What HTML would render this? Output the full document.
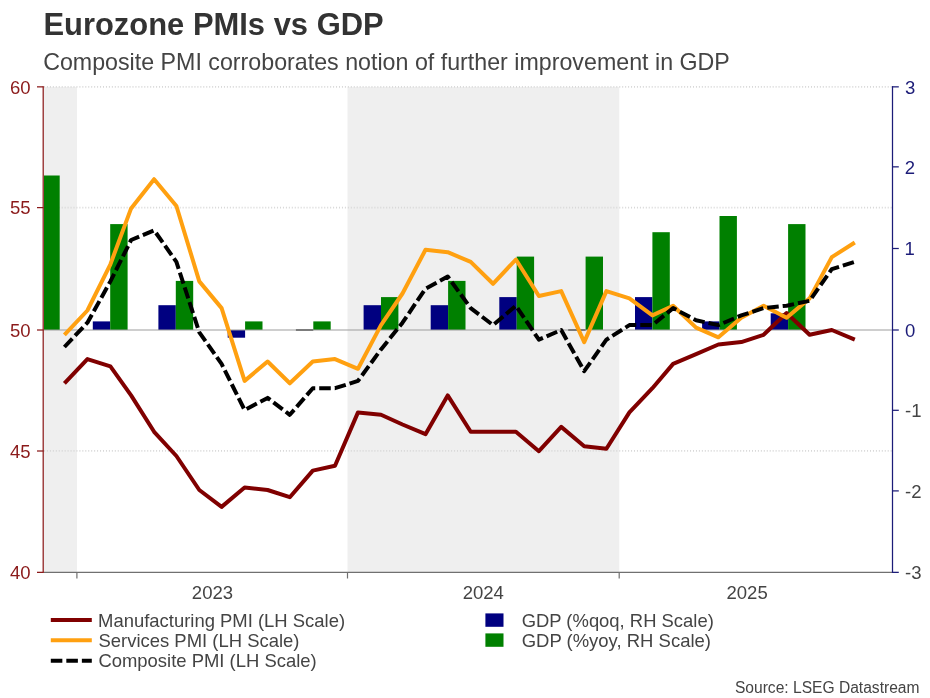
<!DOCTYPE html>
<html><head><meta charset="utf-8"><title>Eurozone PMIs vs GDP</title>
<style>
html,body{margin:0;padding:0;background:#fff}
body{width:930px;height:698px;position:relative;overflow:hidden;font-family:"Liberation Sans",sans-serif}
svg text{font-family:"Liberation Sans",sans-serif}
</style></head><body>
<svg width="930" height="698" viewBox="0 0 930 698" style="position:absolute;left:0;top:0;will-change:transform">
<defs><clipPath id="cp"><rect x="44" y="80" width="848" height="493"/></clipPath></defs>
<rect x="44" y="87" width="33" height="485" fill="#efefef"/>
<rect x="347.5" y="87" width="271.75" height="485" fill="#efefef"/>
<line x1="44" x2="892" y1="86.85" y2="86.85" stroke="#d8d8d8" stroke-width="1.7" stroke-dasharray="1 1.95"/>
<line x1="44" x2="892" y1="207.70" y2="207.70" stroke="#d8d8d8" stroke-width="1.7" stroke-dasharray="1 1.95"/>
<line x1="44" x2="892" y1="450.80" y2="450.80" stroke="#d8d8d8" stroke-width="1.7" stroke-dasharray="1 1.95"/>
<g clip-path="url(#cp)"><rect x="24.9" y="330.0" width="17.4" height="7.7" fill="#000080"/><rect x="42.3" y="175.5" width="17.4" height="154.5" fill="#008000"/><rect x="92.8" y="321.4" width="17.4" height="8.6" fill="#000080"/><rect x="110.2" y="224.1" width="17.4" height="105.9" fill="#008000"/><rect x="158.4" y="305.2" width="17.4" height="24.8" fill="#000080"/><rect x="175.8" y="280.9" width="17.4" height="49.1" fill="#008000"/><rect x="227.7" y="330.0" width="17.4" height="7.7" fill="#000080"/><rect x="245.1" y="321.4" width="17.4" height="8.6" fill="#008000"/><rect x="313.3" y="321.4" width="17.4" height="8.6" fill="#008000"/><rect x="363.6" y="305.2" width="17.4" height="24.8" fill="#000080"/><rect x="381.0" y="297.1" width="17.4" height="32.9" fill="#008000"/><rect x="430.7" y="305.2" width="17.4" height="24.8" fill="#000080"/><rect x="448.1" y="280.9" width="17.4" height="49.1" fill="#008000"/><rect x="499.3" y="297.1" width="17.4" height="32.9" fill="#000080"/><rect x="516.7" y="256.6" width="17.4" height="73.4" fill="#008000"/><rect x="585.6" y="256.6" width="17.4" height="73.4" fill="#008000"/><rect x="635.0" y="297.1" width="17.4" height="32.9" fill="#000080"/><rect x="652.4" y="232.2" width="17.4" height="97.8" fill="#008000"/><rect x="702.1" y="321.4" width="17.4" height="8.6" fill="#000080"/><rect x="719.5" y="216.0" width="17.4" height="114.0" fill="#008000"/><rect x="770.7" y="313.3" width="17.4" height="16.7" fill="#000080"/><rect x="788.1" y="224.1" width="17.4" height="105.9" fill="#008000"/></g>
<line x1="44" x2="892" y1="330.00" y2="330.00" stroke="#9e9e9e" stroke-width="1.2"/>
<line x1="295.9" x2="313.3" y1="330.00" y2="330.00" stroke="#505050" stroke-width="1.3"/><line x1="568.2" x2="585.6" y1="330.00" y2="330.00" stroke="#505050" stroke-width="1.3"/>
<g clip-path="url(#cp)" fill="none" stroke-linejoin="round">
<polyline points="64.4,383.3 87.4,359.1 110.4,366.4 131.1,395.4 154.1,431.8 176.4,456.0 199.3,490.0 221.6,506.9 244.6,487.5 267.6,490.0 289.8,497.2 312.8,470.6 335.0,465.7 358.0,412.4 381.0,414.8 402.5,424.5 425.5,434.2 447.7,395.4 470.7,431.8 493.0,431.8 515.9,431.8 538.9,451.2 561.2,426.9 584.2,446.3 606.4,448.8 629.4,412.4 652.4,388.2 673.1,363.9 696.1,354.2 718.4,344.5 741.3,342.1 763.6,334.8 786.6,313.0 809.6,334.8 831.8,330.0 854.8,339.7" stroke="#800000" stroke-width="4"/>
<polyline points="64.4,334.8 87.4,310.5 110.4,264.3 131.1,208.4 154.1,179.2 176.4,206.0 199.3,281.4 221.6,308.1 244.6,380.9 267.6,361.5 289.8,383.3 312.8,361.5 335.0,359.1 358.0,368.8 381.0,325.1 402.5,293.5 425.5,249.8 447.7,252.2 470.7,261.9 493.0,283.8 515.9,259.5 538.9,296.0 561.2,291.1 584.2,342.1 606.4,291.1 629.4,298.4 652.4,315.4 673.1,305.7 696.1,327.6 718.4,337.3 741.3,317.8 763.6,305.7 786.6,317.8 809.6,298.4 831.8,257.1 854.8,242.5" stroke="#ffa010" stroke-width="4"/>
<polyline points="64.4,347.0 87.4,322.7 110.4,281.4 131.1,240.0 154.1,230.3 176.4,261.9 199.3,332.4 221.6,363.9 244.6,410.0 267.6,397.9 289.8,414.8 312.8,388.2 335.0,388.2 358.0,380.9 381.0,349.4 402.5,322.7 425.5,288.7 447.7,276.5 470.7,308.1 493.0,325.1 515.9,305.7 538.9,339.7 561.2,330.0 584.2,371.2 606.4,339.7 629.4,325.1 652.4,325.1 673.1,308.1 696.1,320.3 718.4,325.1 741.3,315.4 763.6,308.1 786.6,305.7 809.6,300.8 831.8,269.2 854.8,261.9" stroke="#000" stroke-width="4" stroke-dasharray="11.55 3.98"/>
</g>
<line x1="44" x2="893" y1="572.35" y2="572.35" stroke="#707070" stroke-width="1.2"/>
<line x1="76.9" x2="76.9" y1="572" y2="578.5" stroke="#707070" stroke-width="1.2"/>
<line x1="347.5" x2="347.5" y1="572" y2="578.5" stroke="#707070" stroke-width="1.2"/>
<line x1="619.2" x2="619.2" y1="572" y2="578.5" stroke="#707070" stroke-width="1.2"/>
<line x1="43.2" x2="43.2" y1="86.25" y2="572.95" stroke="#8b1a1a" stroke-width="1.25"/>
<line x1="37" x2="43.5" y1="86.85" y2="86.85" stroke="#8b1a1a" stroke-width="1.25"/>
<text transform="translate(9.96,93.70) scale(1.0300,1)" font-size="18" fill="#8b1a1a">60</text>
<line x1="37" x2="43.5" y1="207.60" y2="207.60" stroke="#8b1a1a" stroke-width="1.25"/>
<text transform="translate(9.96,214.45) scale(1.0300,1)" font-size="18" fill="#8b1a1a">55</text>
<line x1="37" x2="43.5" y1="330.00" y2="330.00" stroke="#8b1a1a" stroke-width="1.25"/>
<text transform="translate(9.96,336.85) scale(1.0300,1)" font-size="18" fill="#8b1a1a">50</text>
<line x1="37" x2="43.5" y1="451.00" y2="451.00" stroke="#8b1a1a" stroke-width="1.25"/>
<text transform="translate(9.96,457.85) scale(1.0300,1)" font-size="18" fill="#8b1a1a">45</text>
<line x1="37" x2="43.5" y1="572.35" y2="572.35" stroke="#8b1a1a" stroke-width="1.25"/>
<text transform="translate(9.96,579.20) scale(1.0300,1)" font-size="18" fill="#8b1a1a">40</text>
<line x1="892.5" x2="892.5" y1="86.25" y2="572.95" stroke="#1c1c78" stroke-width="1.25"/>
<line x1="892" x2="898.8" y1="86.85" y2="86.85" stroke="#1c1c78" stroke-width="1.25"/>
<text transform="translate(905.06,93.70) scale(1.0300,1)" font-size="18" fill="#1c1c78">3</text>
<line x1="892" x2="898.8" y1="166.85" y2="166.85" stroke="#1c1c78" stroke-width="1.25"/>
<text transform="translate(904.87,173.70) scale(1.0300,1)" font-size="18" fill="#1c1c78">2</text>
<line x1="892" x2="898.8" y1="248.50" y2="248.50" stroke="#1c1c78" stroke-width="1.25"/>
<text transform="translate(904.41,255.35) scale(1.0300,1)" font-size="18" fill="#1c1c78">1</text>
<line x1="892" x2="898.8" y1="330.00" y2="330.00" stroke="#1c1c78" stroke-width="1.25"/>
<text transform="translate(905.06,336.85) scale(1.0300,1)" font-size="18" fill="#1c1c78">0</text>
<line x1="892" x2="898.8" y1="410.30" y2="410.30" stroke="#1c1c78" stroke-width="1.25"/>
<text transform="translate(904.97,417.15) scale(1.0300,1)" font-size="18" fill="#444">-1</text>
<line x1="892" x2="898.8" y1="490.90" y2="490.90" stroke="#1c1c78" stroke-width="1.25"/>
<text transform="translate(904.97,497.75) scale(1.0300,1)" font-size="18" fill="#444">-2</text>
<line x1="892" x2="898.8" y1="572.35" y2="572.35" stroke="#1c1c78" stroke-width="1.25"/>
<text transform="translate(904.97,579.20) scale(1.0300,1)" font-size="18" fill="#444">-3</text>
<text transform="translate(191.83,598.90) scale(1.0300,1)" font-size="18" fill="#444">2023</text>
<text transform="translate(462.69,598.90) scale(1.0300,1)" font-size="18" fill="#444">2024</text>
<text transform="translate(726.48,598.90) scale(1.0300,1)" font-size="18" fill="#444">2025</text>
<line x1="50.8" x2="91.8" y1="620" y2="620" stroke="#800000" stroke-width="4"/>
<line x1="50.8" x2="91.8" y1="640.2" y2="640.2" stroke="#ffa010" stroke-width="4"/>
<line x1="50.8" x2="91.8" y1="660.65" y2="660.65" stroke="#000" stroke-width="4" stroke-dasharray="11.55 3.98"/>
<text transform="translate(98.02,626.70) scale(1.0256,1)" font-size="18" fill="#444">Manufacturing PMI (LH Scale)</text>
<text transform="translate(98.47,646.90) scale(1.0261,1)" font-size="18" fill="#444">Services PMI (LH Scale)</text>
<text transform="translate(98.38,667.10) scale(1.0253,1)" font-size="18" fill="#444">Composite PMI (LH Scale)</text>
<rect x="485.4" y="613.4" width="18.1" height="13.4" fill="#000080"/>
<rect x="485.4" y="633.4" width="18.1" height="13.4" fill="#008000"/>
<text transform="translate(521.68,626.70) scale(1.0239,1)" font-size="18" fill="#444">GDP (%qoq, RH Scale)</text>
<text transform="translate(521.68,646.90) scale(1.0272,1)" font-size="18" fill="#444">GDP (%yoy, RH Scale)</text>
<text transform="translate(734.90,692.70) scale(0.9749,1)" font-size="16" fill="#444">Source: LSEG Datastream</text>
<text transform="translate(43.39,34.80) scale(1.0045,1)" font-size="30.8" fill="#333" font-weight="bold">Eurozone PMIs vs GDP</text>
<text transform="translate(43.14,69.90) scale(1.0100,1)" font-size="23" fill="#444">Composite PMI corroborates notion of further improvement in GDP</text>
</svg>
</body></html>
